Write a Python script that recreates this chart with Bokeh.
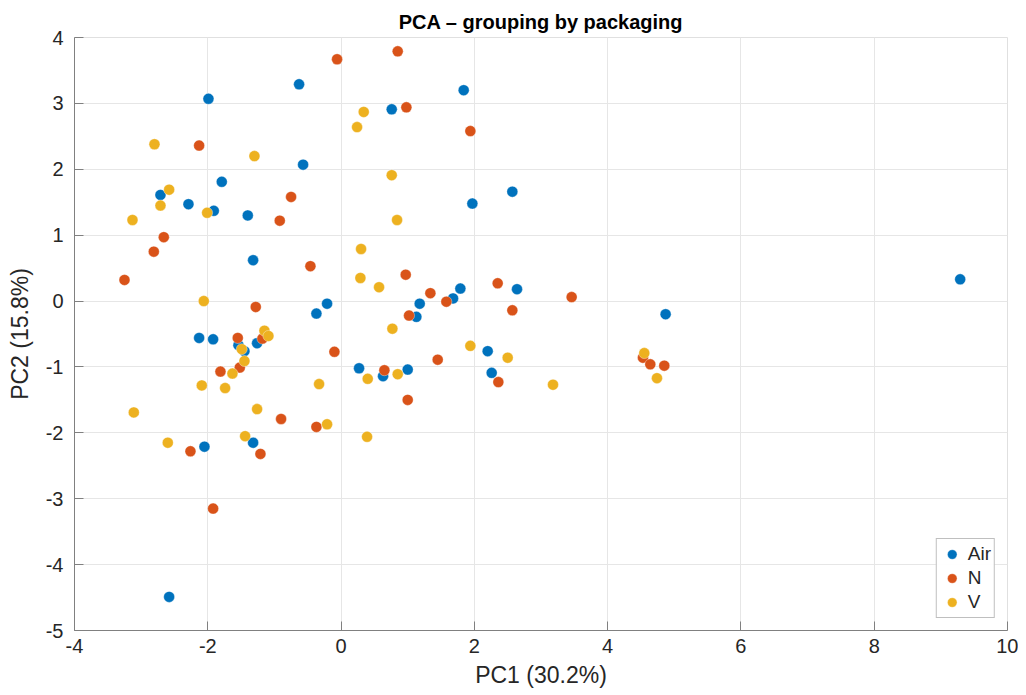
from bokeh.plotting import figure
from bokeh.models import Range1d, FixedTicker, Legend, LegendItem, CustomJSTickFormatter
from bokeh.embed import file_html
from bokeh.resources import INLINE

groups = ["Air", "N", "V"]
colors = ["#0072BD", "#D95319", "#EDB120"]

air_x = [-0.63, -1.99, -0.57, -1.79, -2.71, -2.29, -1.91, -1.40, -1.32, -0.21, -0.37, -2.13, -1.92, -1.54, -1.26, -1.45, 0.27, -2.05, -1.32, -2.58, 1.84, 0.76, 2.57, 1.97, 1.79, 1.68, 2.64, 1.18, 1.13, 4.87, 2.20, 1.00, 0.63, 2.26, 9.29]
air_y = [3.29, 3.07, 2.07, 1.81, 1.61, 1.47, 1.37, 1.30, 0.62, -0.04, -0.19, -0.56, -0.58, -0.67, -0.64, -0.76, -1.02, -2.21, -2.15, -4.49, 3.20, 2.91, 1.66, 1.48, 0.19, 0.04, 0.18, -0.04, -0.24, -0.20, -0.76, -1.04, -1.14, -1.09, 0.33]

n_x = [-0.06, -2.13, -0.75, -0.92, -2.66, -2.81, -0.46, -3.25, -1.28, -1.55, -1.18, -1.52, -1.81, -0.10, -0.90, -0.37, -2.26, -1.21, -1.92, 0.85, 0.98, 1.94, 0.97, 1.34, 1.58, 2.35, 3.46, 1.02, 2.57, 1.45, 0.65, 2.36, 1.00, 4.53, 4.64, 4.85]
n_y = [3.67, 2.36, 1.58, 1.22, 0.97, 0.75, 0.53, 0.32, -0.09, -0.56, -0.57, -1.01, -1.07, -0.77, -1.79, -1.91, -2.28, -2.32, -3.15, 3.79, 2.94, 2.58, 0.40, 0.12, -0.01, 0.27, 0.06, -0.22, -0.14, -0.89, -1.05, -1.23, -1.50, -0.86, -0.96, -0.98]

v_x = [0.34, 0.24, -2.80, -1.30, -2.58, -2.71, -2.01, -3.13, 0.30, 0.29, -2.06, -1.15, -1.09, -1.49, -1.45, -1.63, -2.09, -1.74, 0.40, -0.33, -3.11, -1.26, -0.21, 0.39, -2.60, -1.44, 0.76, 0.84, 0.57, 0.77, 1.94, 2.50, 0.85, 3.18, 4.55, 4.74]
v_y = [2.87, 2.64, 2.38, 2.20, 1.69, 1.45, 1.34, 1.23, 0.79, 0.35, 0.00, -0.45, -0.53, -0.73, -0.91, -1.10, -1.28, -1.32, -1.18, -1.26, -1.69, -1.64, -1.87, -2.06, -2.15, -2.05, 1.91, 1.23, 0.21, -0.42, -0.68, -0.86, -1.11, -1.27, -0.79, -1.17]

x_ticks = [-4, -2, 0, 2, 4, 6, 8, 10]
y_ticks = [-5, -4, -3, -2, -1, 0, 1, 2, 3, 4]

FONT = "Liberation Sans"
TXT = "#262626"

p = figure(frame_width=933, frame_height=593,
           x_range=Range1d(-4, 10), y_range=Range1d(-5, 4),
           output_backend="svg", toolbar_location=None,
           min_border_left=74, min_border_right=11, min_border_top=37, min_border_bottom=50,
           background_fill_color="white", border_fill_color="white")

p.title.text = "PCA \u2013 grouping by packaging"
p.title.align = "center"
p.title.text_font = FONT
p.title.text_font_size = "20px"
p.title.text_font_style = "bold"
p.title.text_color = "#000000"
p.title.offset = 0

p.outline_line_color = "#e0e0e0"

fmt = CustomJSTickFormatter(code="return tick.toString();")

for ax in (p.xaxis[0], p.yaxis[0]):
    ax.axis_line_color = "#808080"
    ax.major_tick_line_color = "#808080"
    ax.major_tick_in = 9
    ax.major_tick_out = 0
    ax.minor_tick_line_color = None
    ax.major_label_text_font = FONT
    ax.major_label_text_font_size = "20px"
    ax.major_label_text_color = TXT
    ax.axis_label_text_font = FONT
    ax.axis_label_text_font_size = "23px"
    ax.axis_label_text_font_style = "normal"
    ax.axis_label_text_color = TXT
    ax.formatter = fmt

p.xaxis.ticker = FixedTicker(ticks=x_ticks)
p.yaxis.ticker = FixedTicker(ticks=y_ticks)
p.xaxis.axis_label = "PC1 (30.2%)"
p.yaxis.axis_label = "PC2 (15.8%)"
p.xaxis.major_label_standoff = 8
p.yaxis.major_label_standoff = 11
p.xaxis.axis_label_standoff = 6
p.yaxis.axis_label_standoff = 10

p.xgrid.grid_line_color = "#e6e6e6"
p.ygrid.grid_line_color = "#e6e6e6"

data = [(air_x, air_y), (n_x, n_y), (v_x, v_y)]
items = []
for g, c, (xs, ys) in zip(groups, colors, data):
    r = p.scatter(xs, ys, size=11, fill_color=c, line_color="white", line_width=0.6, line_alpha=0.6)
    items.append(LegendItem(label=g, renderers=[r]))

legend = Legend(items=items, location="bottom_right")
legend.margin = 12
legend.padding = 3
legend.spacing = 0
legend.label_text_font = FONT
legend.label_text_font_size = "19px"
legend.label_text_color = TXT
legend.glyph_width = 24
legend.glyph_height = 24
legend.label_height = 24
legend.label_standoff = 4
legend.border_line_color = "#808080"
legend.border_line_width = 1
legend.background_fill_color = "white"
p.add_layout(legend, "center")

open("out.html", "w").write(file_html(p, INLINE))
